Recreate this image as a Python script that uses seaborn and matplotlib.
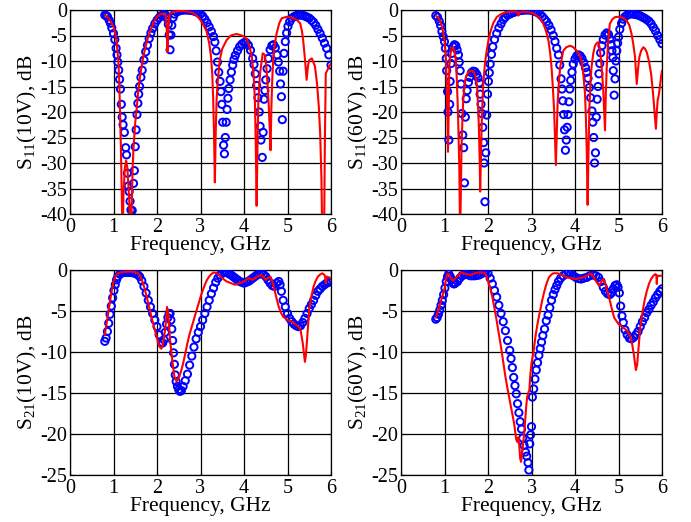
import numpy as np
import pandas as pd
import matplotlib
matplotlib.use("Agg")
import matplotlib.pyplot as plt
import seaborn as sns

# ---------------- data ----------------
# S11 (10V) measured
m11_10_f = [0.80,0.83,0.86,0.90,0.93,0.96,1.00,1.03,1.06,1.08,1.10,1.12,1.14,1.16,1.18,1.20,1.22,1.25,1.28,1.30,
            1.32,1.34,1.36,1.38,1.40,1.43,1.46,1.48,1.50,1.52,1.54,1.56,1.58,1.60,1.63,1.66,1.70,1.74,1.78,1.82,
            1.86,1.90,1.95,2.00,2.05,2.10,2.15,2.20,2.23,2.26,2.28,2.30,2.32,2.34,2.37,2.40,2.45,2.50,2.55,2.60,
            2.65,2.70,2.75,2.80,2.85,2.90,2.95,3.00,3.05,3.10,3.15,3.20,3.25,3.30,3.33,3.36,3.39,3.42,3.45,3.47,
            3.49,3.51,3.53,3.55,3.57,3.59,3.61,3.63,3.65,3.68,3.71,3.74,3.77,3.80,3.85,3.90,3.95,4.00,4.05,4.10,
            4.15,4.20,4.23,4.26,4.29,4.32,4.35,4.37,4.39,4.42,4.44,4.46,4.48,4.50,4.53,4.56,4.60,4.64,4.68,4.72,
            4.76,4.79,4.82,4.84,4.86,4.88,4.90,4.92,4.95,4.98,5.01,5.05,5.10,5.15,5.20,5.25,5.30,5.35,5.40,5.45,
            5.50,5.55,5.60,5.65,5.70,5.75,5.80,5.85,5.90,5.95,6.00]
m11_10_db = [-1.0,-1.1,-1.3,-2.0,-2.6,-3.5,-4.6,-5.8,-7.5,-8.8,-10.2,-11.8,-13.6,-15.5,-18.5,-21.0,-22.5,-24.0,-27.0,-28.4,
             -32.0,-34.5,-35.6,-37.5,-39.2,-39.3,-34.0,-31.5,-26.8,-23.5,-20.5,-18.3,-16.5,-15.0,-13.2,-11.8,-9.8,-8.2,-6.9,-5.6,
             -4.5,-3.6,-2.7,-2.0,-1.5,-1.1,-0.9,-1.0,-1.6,-2.8,-4.9,-7.8,-4.9,-3.0,-1.5,-0.8,-0.4,-0.2,-0.1,0.0,
             0.0,0.0,-0.05,-0.1,-0.2,-0.35,-0.55,-0.8,-1.2,-1.8,-2.5,-3.3,-4.2,-5.2,-6.3,-8.0,-10.2,-12.2,-14.0,-16.0,
             -18.5,-22.0,-26.5,-28.2,-25.0,-22.0,-19.5,-17.3,-15.4,-13.7,-12.2,-10.8,-9.7,-8.9,-8.0,-7.2,-6.7,-6.4,-6.4,-6.9,
             -7.9,-9.5,-10.7,-12.5,-14.8,-17.2,-20.0,-22.8,-25.5,-28.9,-24.0,-17.5,-15.8,-13.7,-11.5,-9.5,-7.8,-7.0,-6.8,-7.4,
             -8.8,-10.2,-12.0,-14.5,-17.0,-21.5,-12.0,-8.5,-6.2,-4.5,-3.2,-2.3,-1.6,-1.3,-1.1,-1.0,-1.0,-1.05,-1.2,-1.4,
             -1.6,-2.0,-2.4,-3.0,-3.8,-4.6,-5.5,-6.5,-7.5,-8.8,-10.8]
# S11 (10V) simulated
s11_10_f = [0.80,0.85,0.90,0.95,1.00,1.05,1.08,1.11,1.13,1.15,1.17,1.19,1.21,1.23,1.26,1.29,1.32,1.34,1.36,1.38,
            1.40,1.42,1.44,1.46,1.50,1.53,1.57,1.60,1.66,1.72,1.78,1.84,1.92,2.00,2.08,2.15,2.20,2.22,2.24,2.26,
            2.28,2.30,2.40,2.50,2.60,2.70,2.80,2.90,3.00,3.07,3.14,3.20,3.24,3.27,3.29,3.31,3.33,3.35,3.37,3.40,
            3.45,3.50,3.60,3.70,3.83,3.95,4.06,4.12,4.18,4.22,4.25,4.27,4.29,4.31,4.33,4.37,4.43,4.48,4.51,4.54,
            4.57,4.59,4.61,4.63,4.65,4.67,4.71,4.75,4.81,4.87,5.00,5.13,5.22,5.29,5.33,5.36,5.40,5.44,5.47,5.50,
            5.56,5.63,5.68,5.72,5.75,5.78,5.80,5.84,5.86,5.88,5.94,6.00]
s11_10_db = [-1.0,-1.3,-1.8,-2.5,-3.3,-5.0,-7.0,-9.8,-13.5,-19.6,-27.0,-36.0,-45.0,-36.0,-31.0,-29.5,-31.0,-34.0,-37.0,-42.0,
             -45.0,-38.0,-31.0,-27.0,-22.0,-19.6,-15.8,-13.7,-10.3,-7.8,-5.8,-4.2,-2.4,-1.3,-0.8,-0.7,-1.0,-3.0,-8.2,-4.0,
             -1.4,-0.7,-0.3,-0.2,-0.2,-0.3,-0.5,-1.0,-2.0,-3.0,-4.2,-6.5,-9.0,-12.5,-17.0,-24.0,-33.8,-24.0,-17.6,-13.5,
             -9.5,-7.6,-5.9,-5.0,-4.7,-5.0,-5.6,-7.0,-9.1,-12.5,-17.6,-26.0,-38.4,-27.0,-17.6,-12.4,-8.5,-8.8,-10.8,-14.4,
             -19.0,-23.0,-27.5,-19.0,-13.5,-10.0,-6.5,-4.6,-2.6,-1.6,-1.3,-1.6,-2.0,-2.6,-4.0,-5.9,-9.5,-13.7,-11.0,-9.8,
             -9.5,-11.0,-14.5,-19.0,-24.0,-33.0,-45.0,-45.0,-25.0,-12.4,-11.4,-10.5]

# S11 (60V) measured
m11_60_f = [0.80,0.84,0.88,0.91,0.94,0.97,1.00,1.02,1.04,1.05,1.07,1.08,1.10,1.12,1.13,1.15,1.17,1.20,1.23,1.26,
            1.29,1.32,1.34,1.36,1.38,1.40,1.42,1.44,1.46,1.48,1.50,1.52,1.55,1.58,1.62,1.66,1.70,1.74,1.77,1.80,
            1.82,1.84,1.86,1.88,1.90,1.91,1.93,1.95,1.97,1.99,2.01,2.03,2.05,2.08,2.11,2.15,2.20,2.25,2.30,2.35,
            2.40,2.45,2.50,2.55,2.60,2.65,2.70,2.75,2.80,2.85,2.90,2.95,3.00,3.05,3.10,3.15,3.20,3.25,3.30,3.35,
            3.40,3.45,3.50,3.54,3.58,3.62,3.65,3.68,3.70,3.72,3.74,3.76,3.78,3.80,3.82,3.84,3.86,3.88,3.90,3.93,
            3.96,4.00,4.04,4.08,4.12,4.16,4.20,4.24,4.27,4.30,4.33,4.36,4.39,4.41,4.43,4.45,4.47,4.49,4.51,4.53,
            4.55,4.57,4.59,4.62,4.65,4.69,4.73,4.77,4.80,4.83,4.85,4.87,4.88,4.90,4.92,4.94,4.96,4.98,5.00,5.03,
            5.07,5.11,5.15,5.20,5.25,5.30,5.35,5.40,5.45,5.50,5.55,5.60,5.65,5.70,5.75,5.80,5.85,5.90,5.95,6.00]
m11_60_db = [-1.1,-1.4,-2.2,-3.0,-4.2,-5.2,-6.2,-7.5,-9.5,-11.9,-16.0,-20.0,-25.5,-18.5,-14.0,-10.5,-8.5,-7.2,-6.8,-7.0,
             -7.8,-8.8,-10.2,-11.9,-14.5,-20.3,-24.5,-27.0,-33.9,-21.0,-17.4,-15.8,-14.2,-13.2,-12.3,-12.0,-12.1,-12.6,-13.3,-14.3,
             -16.5,-18.5,-20.3,-23.0,-26.0,-30.0,-37.6,-28.0,-20.6,-16.5,-14.0,-12.3,-10.6,-8.7,-7.2,-5.8,-4.6,-3.5,-2.7,-1.9,
             -1.4,-1.0,-0.8,-0.6,-0.45,-0.3,-0.2,-0.1,-0.05,0.0,0.0,0.0,-0.05,-0.2,-0.35,-0.55,-0.9,-1.3,-1.8,-2.3,
             -3.0,-3.9,-5.0,-6.2,-7.5,-8.8,-10.8,-13.5,-15.5,-17.8,-20.5,-23.5,-27.5,-25.5,-23.0,-20.5,-18.0,-15.5,-13.8,-12.2,
             -10.6,-9.6,-9.0,-8.8,-9.0,-9.5,-10.3,-11.3,-12.2,-13.4,-15.2,-17.2,-19.8,-22.0,-25.0,-30.0,-28.0,-21.0,-17.5,-15.0,
             -12.5,-10.5,-8.4,-7.0,-5.8,-4.9,-4.5,-4.8,-5.7,-6.8,-8.0,-9.3,-11.9,-16.7,-13.5,-10.0,-8.0,-6.5,-5.3,-3.8,
             -2.6,-1.8,-1.3,-1.0,-0.8,-0.75,-0.8,-0.9,-1.0,-1.15,-1.4,-1.6,-1.9,-2.2,-2.7,-3.4,-4.1,-5.0,-5.8,-6.6]
# S11 (60V) simulated
s11_60_f = [0.80,0.85,0.90,0.95,1.00,1.03,1.05,1.07,1.08,1.10,1.11,1.14,1.17,1.20,1.23,1.26,1.28,1.30,1.32,1.34,
            1.36,1.38,1.39,1.41,1.43,1.46,1.49,1.54,1.59,1.64,1.68,1.72,1.75,1.77,1.79,1.81,1.82,1.84,1.85,1.87,
            1.89,1.93,1.97,2.01,2.05,2.12,2.20,2.30,2.39,2.50,2.60,2.66,2.68,2.70,2.72,2.80,2.90,2.97,3.05,3.12,
            3.20,3.27,3.33,3.39,3.43,3.46,3.49,3.52,3.54,3.56,3.58,3.60,3.63,3.66,3.73,3.80,3.89,3.96,4.04,4.10,
            4.15,4.19,4.23,4.25,4.27,4.29,4.31,4.33,4.35,4.38,4.42,4.46,4.50,4.54,4.57,4.59,4.62,4.65,4.67,4.69,
            4.71,4.73,4.76,4.80,4.86,4.92,5.03,5.11,5.19,5.25,5.30,5.34,5.38,5.42,5.45,5.48,5.52,5.57,5.61,5.65,
            5.70,5.75,5.79,5.82,5.86,5.88,5.90,5.93,5.95,5.98,6.00]
s11_60_db = [-1.1,-1.5,-2.1,-3.5,-6.0,-9.0,-14.5,-22.0,-27.8,-18.0,-11.2,-8.5,-7.4,-7.3,-8.2,-9.9,-13.0,-17.7,-23.5,-30.7,
             -45.0,-33.0,-27.5,-22.0,-17.7,-14.8,-13.2,-12.3,-11.9,-12.0,-12.2,-13.3,-15.1,-18.5,-22.9,-30.0,-35.6,-28.0,-24.2,-18.5,
             -14.5,-10.5,-8.0,-6.0,-4.4,-2.6,-1.4,-0.8,-0.5,-0.35,-0.3,-0.3,-0.6,-1.1,-0.5,-0.3,-0.4,-0.5,-0.7,-1.1,
             -1.7,-2.7,-4.0,-6.0,-8.5,-11.2,-15.0,-19.7,-25.0,-30.4,-24.0,-18.4,-14.0,-11.2,-8.0,-7.3,-7.0,-7.3,-8.0,-8.8,
             -9.9,-12.5,-16.4,-21.0,-27.5,-38.2,-28.0,-19.7,-15.0,-11.2,-8.5,-7.0,-6.5,-6.3,-7.5,-9.2,-12.0,-15.8,-19.5,-23.6,
             -16.0,-11.2,-6.5,-2.7,-1.8,-1.4,-1.3,-1.6,-2.1,-3.0,-4.7,-6.7,-9.2,-14.5,-11.5,-9.2,-8.0,-7.3,-7.6,-8.3,
             -10.0,-12.5,-16.0,-19.1,-23.3,-20.0,-17.7,-16.5,-15.1,-13.0,-11.9]

# S21 (10V) measured
m21_10_f = [0.80,0.83,0.86,0.89,0.92,0.95,0.98,1.01,1.04,1.07,1.10,1.15,1.20,1.25,1.30,1.35,1.40,1.45,1.50,1.55,
            1.60,1.65,1.70,1.75,1.80,1.85,1.90,1.95,2.00,2.05,2.10,2.13,2.16,2.19,2.22,2.25,2.28,2.30,2.32,2.34,
            2.36,2.38,2.40,2.42,2.44,2.47,2.50,2.53,2.56,2.60,2.65,2.70,2.75,2.80,2.85,2.90,2.95,3.00,3.05,3.10,
            3.15,3.20,3.25,3.30,3.35,3.40,3.45,3.50,3.55,3.60,3.65,3.70,3.75,3.80,3.85,3.90,3.95,4.00,4.05,4.10,
            4.15,4.20,4.25,4.30,4.35,4.40,4.45,4.50,4.55,4.60,4.65,4.70,4.75,4.80,4.83,4.86,4.90,4.95,5.00,5.05,
            5.10,5.15,5.20,5.25,5.30,5.35,5.40,5.45,5.50,5.55,5.60,5.65,5.70,5.75,5.80,5.85,5.90,5.95,6.00]
m21_10_db = [-8.7,-8.3,-7.5,-6.5,-5.4,-4.4,-3.4,-2.5,-1.8,-1.2,-0.8,-0.5,-0.35,-0.3,-0.3,-0.3,-0.3,-0.35,-0.4,-0.55,
             -0.8,-1.3,-2.0,-2.8,-3.7,-4.5,-5.3,-6.1,-6.9,-7.9,-8.8,-8.9,-8.5,-7.6,-6.6,-5.8,-5.3,-5.3,-6.1,-7.2,
             -8.6,-10.1,-11.5,-12.8,-13.6,-14.2,-14.6,-14.8,-14.7,-14.2,-13.5,-12.7,-11.6,-10.5,-9.4,-8.4,-7.6,-6.9,-6.1,-5.3,
             -4.5,-3.7,-2.9,-2.2,-1.5,-1.0,-0.6,-0.4,-0.3,-0.3,-0.45,-0.6,-0.8,-1.0,-1.2,-1.4,-1.5,-1.6,-1.5,-1.4,
             -1.2,-1.0,-0.8,-0.6,-0.5,-0.4,-0.55,-0.8,-1.2,-1.6,-1.9,-2.0,-1.6,-1.4,-1.8,-2.6,-3.7,-4.5,-5.3,-5.9,
             -6.3,-6.6,-6.8,-6.9,-6.8,-6.4,-5.9,-5.3,-4.7,-4.2,-3.7,-3.1,-2.6,-2.3,-2.0,-1.8,-1.6,-1.5,-1.4]
# S21 (10V) simulated
s21_10_f = [0.80,0.85,0.90,0.95,1.00,1.05,1.10,1.20,1.30,1.40,1.50,1.55,1.60,1.65,1.70,1.75,1.80,1.85,1.90,1.95,
            2.00,2.05,2.10,2.13,2.16,2.19,2.21,2.23,2.25,2.27,2.30,2.35,2.40,2.45,2.50,2.55,2.60,2.65,2.70,2.75,
            2.80,2.85,2.90,2.95,3.00,3.05,3.10,3.15,3.20,3.25,3.30,3.35,3.40,3.45,3.50,3.55,3.60,3.70,3.80,3.90,
            4.00,4.10,4.15,4.20,4.25,4.30,4.40,4.45,4.50,4.55,4.60,4.65,4.70,4.75,4.80,4.85,4.90,5.00,5.10,5.20,
            5.25,5.30,5.35,5.40,5.42,5.45,5.50,5.55,5.60,5.65,5.70,5.75,5.80,5.85,5.87,5.88,5.89,5.90,5.95,6.00]
s21_10_db = [-7.9,-6.2,-4.5,-2.8,-1.4,-0.7,-0.4,-0.25,-0.2,-0.2,-0.25,-0.35,-0.6,-1.2,-2.0,-3.0,-4.1,-5.2,-6.3,-7.3,
             -8.3,-9.3,-9.6,-9.2,-8.2,-7.2,-6.0,-4.5,-5.0,-6.1,-8.5,-11.0,-13.0,-13.6,-13.2,-12.4,-11.4,-10.2,-8.9,-7.8,
             -6.9,-6.0,-5.1,-4.2,-3.3,-2.5,-1.8,-1.2,-0.8,-0.5,-0.3,-0.35,-0.5,-0.75,-1.0,-1.2,-1.4,-1.6,-1.8,-1.6,
             -1.4,-1.0,-1.1,-1.2,-1.0,-0.8,-0.6,-0.9,-1.2,-1.0,-0.8,-1.4,-2.4,-3.5,-4.5,-5.2,-5.7,-6.1,-6.3,-6.7,
             -6.9,-7.3,-8.9,-11.2,-10.5,-8.5,-4.7,-3.2,-2.0,-1.3,-0.8,-0.55,-0.4,-0.6,-1.0,-1.6,-0.9,-0.8,-0.9,-1.0]

# S21 (60V) measured
m21_60_f = [0.80,0.83,0.86,0.89,0.92,0.95,0.98,1.01,1.04,1.07,1.10,1.13,1.16,1.19,1.22,1.25,1.30,1.35,1.40,1.45,
            1.50,1.55,1.60,1.65,1.70,1.75,1.80,1.85,1.90,1.95,2.00,2.05,2.10,2.15,2.20,2.25,2.30,2.35,2.40,2.45,
            2.50,2.53,2.56,2.59,2.62,2.65,2.68,2.71,2.74,2.77,2.80,2.83,2.86,2.89,2.92,2.94,2.96,2.98,3.00,3.02,
            3.05,3.08,3.11,3.14,3.17,3.20,3.23,3.26,3.30,3.34,3.38,3.42,3.46,3.50,3.54,3.58,3.62,3.67,3.73,3.79,
            3.85,3.90,3.96,4.02,4.08,4.14,4.20,4.27,4.34,4.42,4.48,4.54,4.60,4.65,4.70,4.75,4.80,4.84,4.88,4.92,
            4.96,4.99,5.02,5.05,5.08,5.11,5.15,5.20,5.25,5.30,5.35,5.40,5.45,5.50,5.55,5.60,5.65,5.70,5.75,5.80,
            5.85,5.90,5.95,6.00]
m21_60_db = [-6.0,-5.8,-5.4,-4.9,-4.3,-3.7,-3.0,-2.2,-1.4,-0.8,-0.5,-0.8,-1.2,-1.6,-1.7,-1.6,-1.4,-1.0,-0.7,-0.6,
             -0.5,-0.6,-0.7,-0.7,-0.7,-0.65,-0.6,-0.45,-0.3,-0.1,-0.4,-1.0,-1.7,-2.5,-3.3,-4.3,-5.3,-6.3,-7.4,-8.6,
             -9.8,-10.8,-11.9,-13.1,-14.1,-15.1,-16.3,-17.4,-18.5,-19.4,-20.5,-21.4,-22.2,-22.7,-23.5,-24.4,-21.2,-20.1,-19.1,-15.5,
             -14.5,-13.3,-12.2,-11.3,-10.4,-9.6,-8.8,-8.0,-7.2,-6.2,-5.5,-4.6,-3.7,-3.0,-2.4,-1.9,-1.4,-1.0,-0.7,-0.45,
             -0.35,-0.5,-0.7,-0.9,-1.05,-1.1,-1.0,-0.9,-0.7,-0.6,-0.7,-0.9,-1.4,-2.1,-2.6,-2.9,-3.0,-2.8,-2.3,-1.9,
             -1.8,-2.1,-2.8,-4.4,-5.6,-6.4,-7.3,-7.9,-8.3,-8.4,-8.2,-7.9,-7.5,-6.9,-6.3,-5.8,-5.2,-4.8,-4.3,-3.9,
             -3.4,-3.0,-2.6,-2.3]
# S21 (60V) simulated
s21_60_f = [0.80,0.85,0.90,0.95,1.00,1.03,1.06,1.10,1.15,1.20,1.25,1.30,1.40,1.50,1.60,1.70,1.80,1.90,1.95,2.00,
            2.05,2.10,2.15,2.20,2.25,2.30,2.35,2.40,2.45,2.50,2.55,2.60,2.63,2.65,2.68,2.70,2.72,2.74,2.76,2.78,
            2.80,2.83,2.85,2.88,2.90,2.93,2.95,2.97,3.00,3.05,3.10,3.15,3.20,3.25,3.30,3.35,3.40,3.45,3.50,3.60,
            3.70,3.80,3.90,4.00,4.10,4.20,4.30,4.35,4.40,4.45,4.50,4.55,4.60,4.65,4.70,4.75,4.80,4.85,4.90,5.00,
            5.10,5.20,5.25,5.30,5.35,5.40,5.43,5.45,5.50,5.55,5.60,5.65,5.70,5.75,5.80,5.85,5.87,5.88,5.89,5.90,
            5.95,6.00]
s21_60_db = [-5.8,-5.0,-4.1,-3.2,-2.3,-1.2,-0.5,-0.5,-1.1,-1.3,-1.0,-0.7,-0.3,-0.5,-0.6,-0.4,-0.3,-0.3,-0.6,-1.3,
             -2.2,-3.3,-4.7,-6.2,-7.8,-9.4,-11.2,-13.0,-14.5,-15.9,-17.3,-18.7,-19.9,-20.7,-21.0,-20.4,-21.5,-23.0,-23.4,-22.5,
             -21.6,-20.0,-18.7,-16.5,-15.5,-14.9,-14.7,-13.0,-11.4,-9.8,-7.8,-6.2,-4.9,-3.6,-2.5,-1.6,-0.9,-0.6,-0.4,-0.4,
             -0.6,-0.9,-1.0,-1.1,-1.0,-0.9,-0.6,-0.4,-0.6,-1.1,-1.5,-1.9,-1.5,-1.1,-1.7,-2.7,-3.7,-4.8,-5.8,-6.6,
             -7.0,-7.4,-7.8,-8.6,-10.2,-12.2,-11.5,-10.2,-7.0,-5.2,-3.7,-2.6,-1.7,-1.1,-0.7,-0.5,-0.6,-1.7,-0.8,-0.7,
             -0.7,-0.7]

panels = [
    ("S$_{11}$(10V), dB", m11_10_f, m11_10_db, s11_10_f, s11_10_db, (-40, 0), [0, -5, -10, -15, -20, -25, -30, -35, -40]),
    ("S$_{11}$(60V), dB", m11_60_f, m11_60_db, s11_60_f, s11_60_db, (-40, 0), [0, -5, -10, -15, -20, -25, -30, -35, -40]),
    ("S$_{21}$(10V), dB", m21_10_f, m21_10_db, s21_10_f, s21_10_db, (-25, 0), [0, -5, -10, -15, -20, -25]),
    ("S$_{21}$(60V), dB", m21_60_f, m21_60_db, s21_60_f, s21_60_db, (-25, 0), [0, -5, -10, -15, -20, -25]),
]
x_ticks = [0, 1, 2, 3, 4, 5, 6]
x_label = "Frequency, GHz"

# ---------------- style ----------------
sns.set_theme(style="white")
plt.rcParams["font.family"] = ["Liberation Serif", "DejaVu Serif"]
plt.rcParams["mathtext.fontset"] = "custom"
plt.rcParams["mathtext.rm"] = "Liberation Serif"
plt.rcParams["mathtext.it"] = "Liberation Serif:italic"
plt.rcParams["axes.unicode_minus"] = False

fig = plt.figure(figsize=(6.91, 5.22), dpi=100)
fig.patch.set_facecolor("white")
positions = [
    [70/691, 1-214/522, 261/691, 204/522],
    [401/691, 1-214/522, 261/691, 204/522],
    [70/691, 1-475/522, 261/691, 205/522],
    [401/691, 1-475/522, 261/691, 205/522],
]

for pos, (ylab, mf, mdb, sf, sdb, ylim, yticks) in zip(positions, panels):
    ax = fig.add_axes(pos)
    dm = pd.DataFrame({"f": mf, "db": mdb})
    dsim = pd.DataFrame({"f": sf, "db": sdb})
    sns.scatterplot(data=dm, x="f", y="db", ax=ax, marker="o", s=27,
                    facecolor="none", edgecolor="#0000ff", linewidth=1.4, zorder=3)
    sns.lineplot(data=dsim, x="f", y="db", ax=ax, color="#ff0000", linewidth=1.5,
                 sort=False, estimator=None, zorder=4)
    ax.set_xlim(0, 6)
    ax.set_ylim(*ylim)
    ax.set_xticks(x_ticks)
    ax.set_yticks(yticks)
    ax.set_xticklabels([str(t) for t in x_ticks])
    ax.set_yticklabels([str(t) for t in yticks])
    ax.grid(True, color="black", linewidth=0.9, linestyle="-")
    ax.set_axisbelow(True)
    for sp in ax.spines.values():
        sp.set_color("black")
        sp.set_linewidth(0.9)
        sp.set_visible(True)
    ax.tick_params(direction="in", length=3, width=0.8, colors="black",
                   labelsize=14.5, top=True, right=True, bottom=True, left=True)
    ax.tick_params(axis="x", pad=3)
    ax.tick_params(axis="y", pad=2)
    ax.set_xlabel(x_label, fontsize=15.5, labelpad=-1, color="black")
    ax.set_ylabel(ylab, fontsize=15.5, labelpad=1, color="black")

fig.savefig("out.png", dpi=100, facecolor="white")
